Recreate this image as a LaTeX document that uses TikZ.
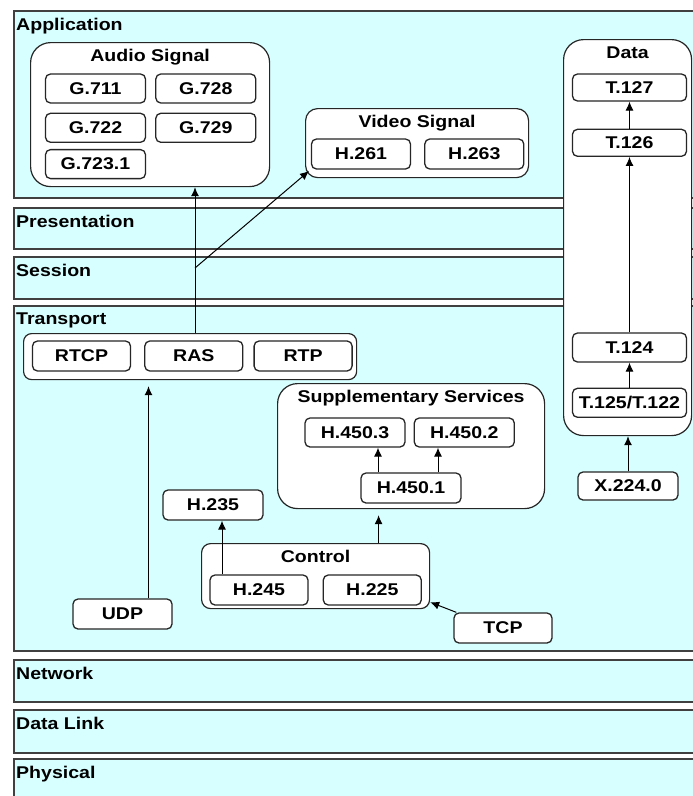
\documentclass[tikz,border=0pt]{standalone}
\usepackage{fontspec}
\setmainfont{Liberation Sans}[FakeStretch=1.15]
\usetikzlibrary{positioning,arrows.meta}
\definecolor{layercyan}{HTML}{D8FFFF}

\begin{document}
\begin{tikzpicture}[x=1pt, y=-1pt,
every node/.style={font=\fontsize{17}{20}\selectfont\bfseries},
layer/.style={rectangle, draw=black!75, line width=1.5pt, fill=layercyan, anchor=north west, minimum width=690pt, inner sep=0pt},
layername/.style={anchor=north west, inner xsep=3pt, inner ysep=8pt},
group/.style={rectangle, draw=black!85, fill=white, line width=1.2pt, anchor=north west, inner sep=0pt},
proto/.style={rectangle, draw=black!85, fill=white, line width=1.3pt, rounded corners=5pt, minimum width=99pt, minimum height=29pt, inner sep=0pt},
existing/.style={line width=1pt, -{Latex[length=9pt,width=8pt]}}
]
\useasboundingbox (0,0) rectangle (693,796);
\clip (0,0) rectangle (693,796);

% OSI layers
\node [layer, minimum height=187pt] (application) at (13,10) {};
\node [layer, minimum height=41pt] (presentation) at (13,207) {};
\node [layer, minimum height=42pt] (session) at (13,256) {};
\node [layer, minimum height=345pt] (transport) at (13,305) {};
\node [layer, minimum height=42pt] (network) at (13,659) {};
\node [layer, minimum height=43pt] (datalink) at (13,709) {};
\node [layer, minimum height=52pt] (physical) at (13,758) {};

\node [layername] (applicationname) at (application.north west) {Application};
\node [layername] (presentationname) at (presentation.north west) {Presentation};
\node [layername] (sessionname) at (session.north west) {Session};
\node [layername] (transportname) at (transport.north west) {Transport};
\node [layername] (networkname) at (network.north west) {Network};
\node [layername] (datalinkname) at (datalink.north west) {Data Link};
\node [layername] (physicalname) at (physical.north west) {Physical};

% groups
\node [group, rounded corners=20pt, minimum width=239pt, minimum height=144pt] (audio) at (30,42) {};
\node [group, rounded corners=12pt, minimum width=223pt, minimum height=69pt] (video) at (305,108) {};
\node [group, rounded corners=20pt, minimum width=128pt, minimum height=396pt] (data) at (563,39) {};
\node [group, rounded corners=8pt, minimum width=333pt, minimum height=46pt] (media) at (23,333) {};
\node [group, rounded corners=20pt, minimum width=267pt, minimum height=125pt] (supp) at (277,383) {};
\node [group, rounded corners=9pt, minimum width=228pt, minimum height=65pt] (control) at (201,543) {};

\node (audioname) [below=4pt of audio.north] {Audio Signal};
\node (videoname) [below=4pt of video.north] {Video Signal};
\node (dataname) [below=4pt of data.north] {Data};
\node (suppname) [below=4pt of supp.north] {Supplementary Services};
\node (controlname) [below=4pt of control.north] {Control};

% audio
\node [proto, minimum width=100pt] (g711) at (95.5,88.5) {G.711};
\node [proto, minimum width=100pt] (g728) [right=9pt of g711] {G.728};
\node [proto, minimum width=100pt] (g722) [below=9pt of g711] {G.722};
\node [proto, minimum width=100pt] (g729) [right=9pt of g722] {G.729};
\node [proto, minimum width=100pt] (g7231) [below=6pt of g722] {G.723.1};

% video
\node [proto, minimum height=30pt] (h261) at (361,154) {H.261};
\node [proto, minimum height=30pt] (h263) [right=13pt of h261] {H.263};

% data
\node [proto, minimum width=114pt, minimum height=27pt] (t127) at (629.5,87.5) {T.127};
\node [proto, minimum width=114pt, minimum height=27pt] (t126) [below=27pt of t127] {T.126};
\node [proto, minimum width=114pt] (t124) at (629.5,347.5) {T.124};
\node [proto, minimum width=114pt] (t125) [below=25pt of t124] {T.125/T.122};
\node [proto, minimum width=100pt, minimum height=28pt] (x224) at (628,486) {X.224.0};

% transport
\node [proto, minimum width=98pt, minimum height=30pt] (rtcp) at (81.5,356) {RTCP};
\node [proto, minimum width=98pt, minimum height=30pt] (ras) [right=13pt of rtcp] {RAS};
\node [proto, minimum width=98pt, minimum height=30pt] (rtp) [right=10pt of ras] {RTP};

% supplementary services
\node [proto, minimum width=100pt] (h4503) at (355,432.5) {H.450.3};
\node [proto, minimum width=100pt] (h4502) [right=8pt of h4503] {H.450.2};
\node [proto, minimum width=100pt, minimum height=30pt] (h4501) at (411,488) {H.450.1};

% control
\node [proto, minimum width=100pt, minimum height=30pt] (h235) at (213,505) {H.235};
\node [proto, minimum width=98pt, minimum height=30pt] (h245) at (259,590) {H.245};
\node [proto, minimum width=98pt, minimum height=30pt] (h225) [right=14pt of h245] {H.225};

\node [proto, minimum height=30pt] (udp) at (122.5,614) {UDP};
\node [proto, minimum width=98pt, minimum height=30pt] (tcp) at (503,628) {TCP};

% links
\coordinate (branch) at (195,268);
\coordinate (videotip) at (309,171);
\coordinate (udpup) at ([xshift=26pt]udp.north);
\coordinate (h245up) at ([xshift=-37pt]h245.north);
\coordinate (controlup) at ([xshift=63pt]control.north);
\coordinate (h4501left) at ([xshift=-33pt]h4501.north);
\coordinate (h4501right) at ([xshift=27pt]h4501.north);

\draw [existing] (media.north -| branch) -- (audio.south -| branch);
\draw [existing] (branch) -- (videotip);

\draw [existing] (t126) -- (t127);
\draw [existing] (t124) -- (t126);
\draw [existing] (t125) -- (t124);
\draw [existing] (x224.north) -- (x224.north |- data.south);

\draw [existing, shorten >=6pt] (udpup) -- (udpup |- media.south);
\draw [existing] (h245up) -- (h245up |- h235.south);
\draw [existing, shorten >=6pt] (controlup) -- (controlup |- supp.south);
\draw [existing] (h4501left) -- (h4501left |- h4503.south);
\draw [existing] (h4501right) -- (h4501right |- h4502.south);
\draw [existing] ([xshift=3pt]tcp.north west) -- ([yshift=7pt]control.south east);

\end{tikzpicture}
\end{document}
